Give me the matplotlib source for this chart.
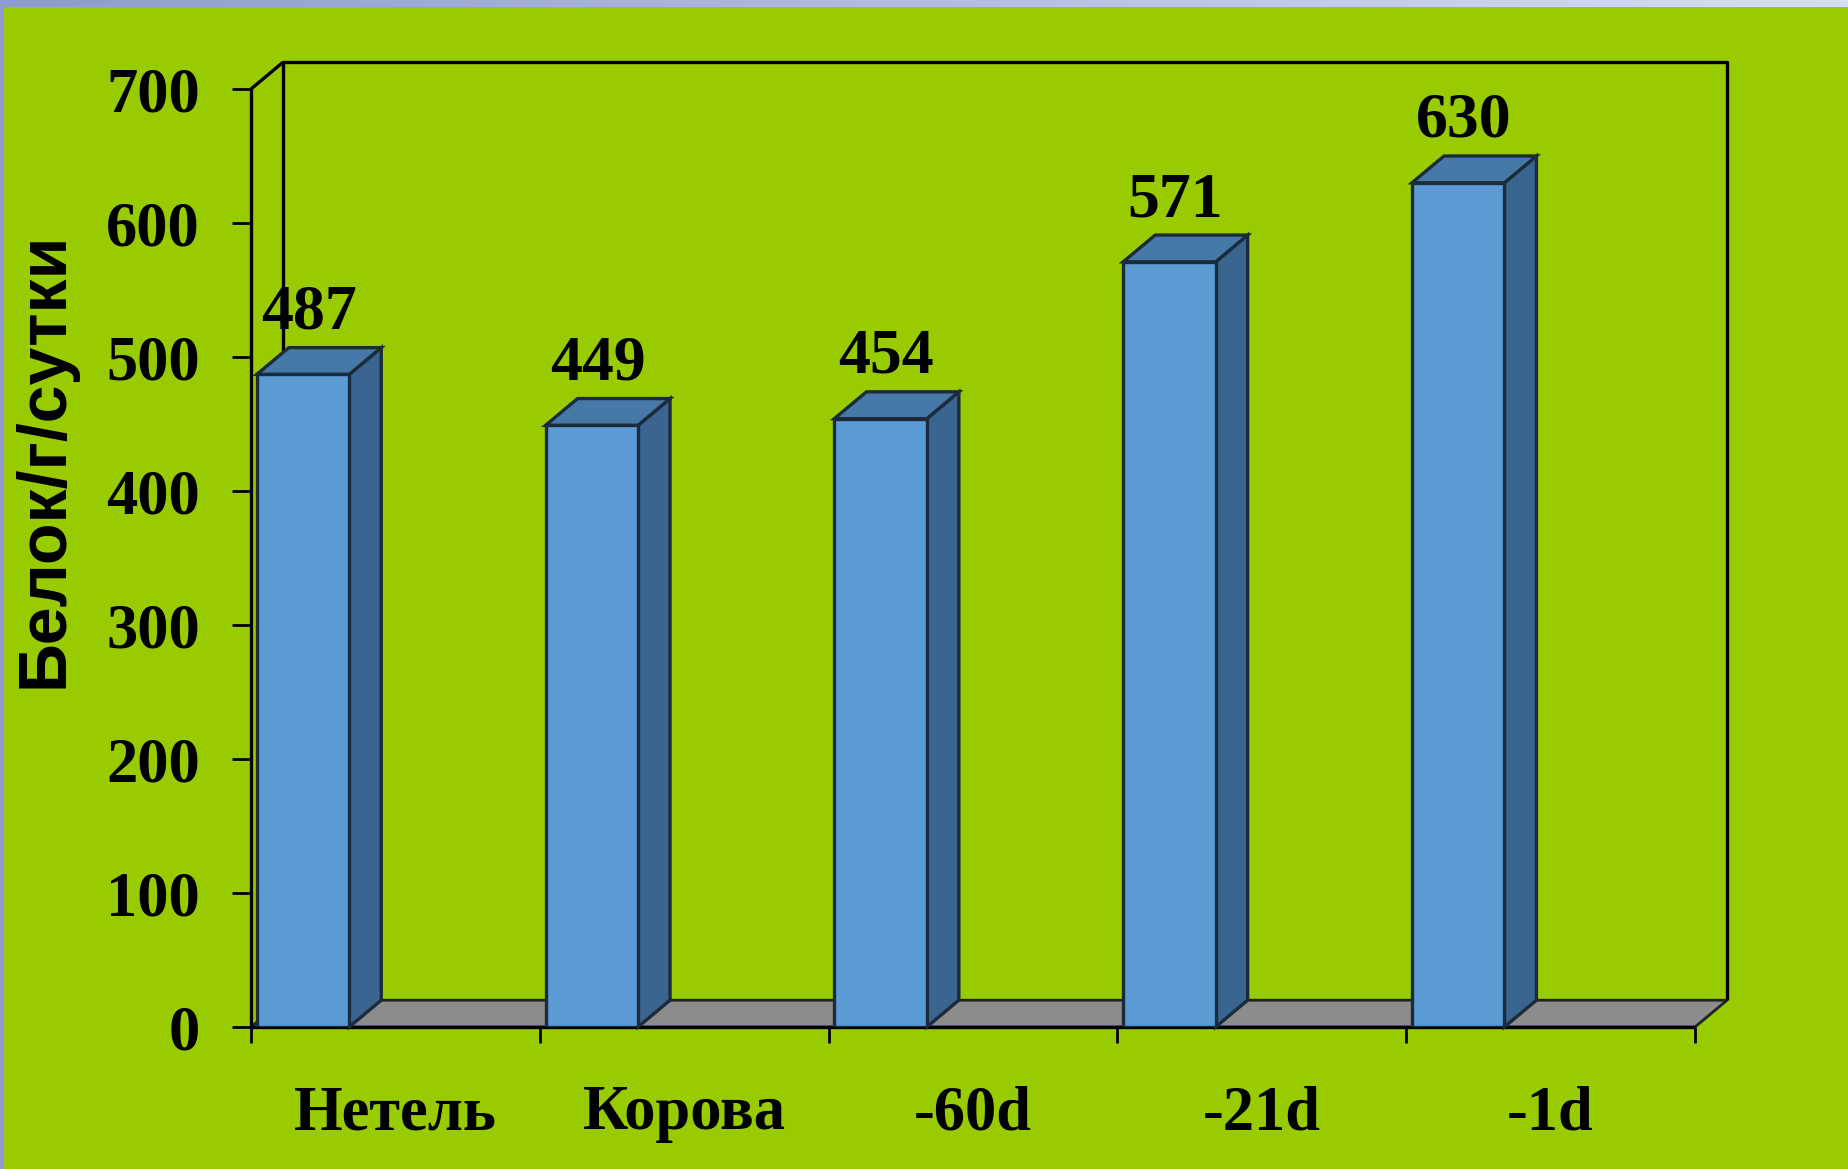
import matplotlib.pyplot as plt
import numpy as np
from matplotlib.patches import Polygon
from matplotlib.colors import LinearSegmentedColormap

# data
categories = ['Нетель', 'Корова', '-60d', '-21d', '-1d']
protein = [487, 449, 454, 571, 630]
y_ticks = [0, 100, 200, 300, 400, 500, 600, 700]
y_label = 'Белок/г/сутки'

# figure parameters
FIG_SIZE = (18.48, 11.69)
BG = '#99CC00'
FRONT = '#5B9BD5'
SIDE = '#3A6590'
TOP = '#4678A8'
EDGE = '#1C2B3A'
FLOOR = '#8C8C8C'
TICK_SIZE = 45
NUM_SIZE = 46
LABEL_SIZE = 49

# 3d depth in data units
DX = 0.111
DY = 20
BAR_OFF = 0.02
BAR_W = 0.32
Y_MAX = 700


def draw_border(fig):
    # lavender strip on top and left edge
    top = fig.add_axes([0, 1 - 7 / 1169, 1, 7 / 1169])
    grad = np.linspace(0, 1, 256).reshape(1, -1)
    cmap = LinearSegmentedColormap.from_list('b', ['#8E9BD3', '#D6DEFA'])
    top.imshow(grad, aspect='auto', cmap=cmap)
    top.axis('off')
    left = fig.add_axes([0, 0, 4 / 1848, 1])
    left.set_facecolor('#8E9BD3')
    left.set_xticks([])
    left.set_yticks([])
    for s in left.spines.values():
        s.set_visible(False)


def draw_chart():
    fig = plt.figure(figsize=FIG_SIZE, dpi=100, facecolor=BG)
    ax = fig.add_axes([251 / 1848, 1 - 1027 / 1169, 1444 / 1848, 938 / 1169])
    ax.patch.set_alpha(0)
    n = len(categories)
    ax.set_xlim(0, n)
    ax.set_ylim(0, Y_MAX)
    for s in ax.spines.values():
        s.set_visible(False)

    # floor
    floor = Polygon([(0, 0), (n, 0), (n + DX, DY), (DX, DY)], closed=True,
                    facecolor=FLOOR, edgecolor='#222222', lw=2, clip_on=False, zorder=1)
    ax.add_patch(floor)

    # back wall and axis lines
    line_kw = dict(color='black', lw=2.4, clip_on=False, solid_capstyle='butt')
    ax.plot([DX, DX, n + DX, n + DX], [DY, Y_MAX + DY, Y_MAX + DY, DY], zorder=2, **line_kw)
    ax.plot([0, DX], [Y_MAX, Y_MAX + DY], zorder=2, **line_kw)
    ax.plot([0, 0], [0, Y_MAX], zorder=2, **line_kw)
    ax.plot([0, n], [0, 0], zorder=2, **line_kw)

    # bars
    x0 = np.arange(n) + BAR_OFF
    ax.bar(x0, protein, BAR_W, align='edge', color=FRONT, edgecolor=EDGE, lw=2.4,
           zorder=5)
    for xl, v in zip(x0, protein):
        xr = xl + BAR_W
        side = Polygon([(xr, 0), (xr + DX, DY), (xr + DX, v + DY), (xr, v)], closed=True,
                       facecolor=SIDE, edgecolor=EDGE, lw=2.4, clip_on=False, zorder=4)
        top = Polygon([(xl, v), (xr, v), (xr + DX, v + DY), (xl + DX, v + DY)], closed=True,
                      facecolor=TOP, edgecolor=EDGE, lw=2.4, clip_on=False, zorder=4)
        ax.add_patch(side)
        ax.add_patch(top)
        ax.annotate(str(v), (xl + BAR_W / 2 + 0.02, v), xytext=(0, 33),
                    textcoords='offset points', ha='center', va='baseline',
                    fontsize=NUM_SIZE, fontweight='bold', family='Liberation Serif',
                    zorder=6, annotation_clip=False)

    # ticks
    ax.set_yticks(y_ticks)
    ax.set_yticklabels([str(t) for t in y_ticks], fontsize=TICK_SIZE, fontweight='bold',
                       family='Liberation Serif')
    ax.tick_params(axis='y', direction='out', length=13.7, width=2, pad=23)
    ax.set_xticks(np.arange(n + 1))
    ax.set_xticklabels([])
    ax.tick_params(axis='x', which='major', direction='out', length=11.5, width=2)
    ax.set_xticks(np.arange(n) + 0.5, minor=True)
    ax.set_xticklabels(categories, minor=True, fontsize=TICK_SIZE, fontweight='bold',
                       family='Liberation Serif')
    ax.tick_params(axis='x', which='minor', length=0, pad=42)

    fig.text(45 / 1848, 1 - 460 / 1169, y_label, rotation=90, ha='center', va='center',
             fontsize=LABEL_SIZE, fontweight='bold', family='Liberation Sans')

    draw_border(fig)
    fig.savefig('out.png', dpi=100, facecolor=BG)


if __name__ == '__main__':
    draw_chart()
